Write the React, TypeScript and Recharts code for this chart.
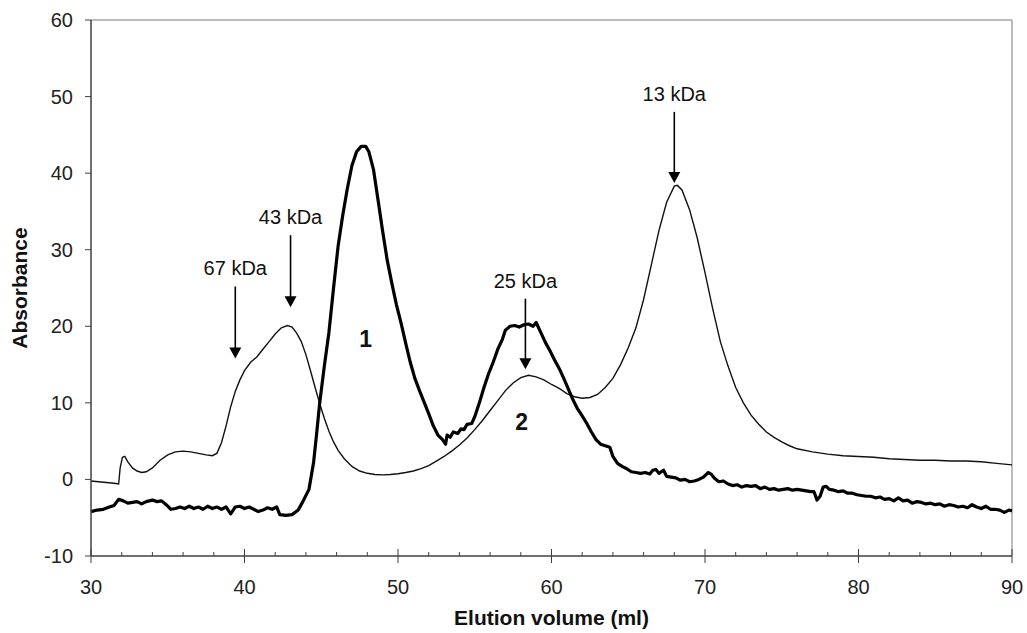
import React from 'react';
import { LineChart, Line, XAxis, YAxis, ReferenceLine, ReferenceDot } from 'recharts';

// sample (thick trace)
const sampleX = [
  30.0, 30.4, 30.8, 31.2, 31.5, 31.8, 32.1, 32.4, 32.7, 33.0, 33.3, 33.6, 34.0, 34.3, 34.6, 34.9,
  35.2, 35.5, 35.8, 36.1, 36.4, 36.7, 37.0, 37.3, 37.6, 37.9, 38.2, 38.5, 38.8, 39.1, 39.4, 39.7,
  40.0, 40.3, 40.6, 40.9, 41.2, 41.5, 41.8, 42.1, 42.3, 42.7, 43.1, 43.5, 43.8, 44.2, 44.5, 44.7,
  44.9, 45.2, 45.5, 45.8, 46.1, 46.4, 46.7, 47.0, 47.3, 47.6, 47.9, 48.1, 48.4, 48.7, 49.0, 49.3,
  49.6, 49.9, 50.2, 50.5, 50.8, 51.1, 51.4, 51.7, 52.0, 52.3, 52.6, 52.9, 53.1, 53.2, 53.4, 53.6,
  53.9, 54.1, 54.3, 54.5, 54.8, 55.0, 55.3, 55.6, 55.9, 56.2, 56.5, 56.8, 57.0, 57.3, 57.6, 57.9,
  58.2, 58.5, 58.8, 59.0, 59.3, 59.6, 59.9, 60.2, 60.5, 60.8, 61.1, 61.4, 61.7, 62.0, 62.3, 62.6,
  62.9, 63.2, 63.5, 63.8, 64.0, 64.3, 64.6, 64.9, 65.2, 65.5, 65.8, 66.1, 66.4, 66.6, 66.8, 67.0,
  67.3, 67.5, 67.8, 68.1, 68.4, 68.7, 69.0, 69.3, 69.6, 69.9, 70.2, 70.4, 70.6, 70.9, 71.2, 71.5,
  71.8, 72.1, 72.4, 72.7, 73.0, 73.3, 73.6, 73.9, 74.2, 74.5, 74.8, 75.1, 75.4, 75.7, 76.0, 76.3,
  76.6, 76.9, 77.1, 77.3, 77.5, 77.7, 77.9, 78.1, 78.4, 78.7, 79.0, 79.3, 79.6, 79.9, 80.2, 80.5,
  80.8, 81.1, 81.4, 81.7, 82.0, 82.3, 82.6, 82.9, 83.2, 83.5, 83.8, 84.1, 84.4, 84.7, 85.0, 85.3,
  85.6, 85.9, 86.2, 86.5, 86.8, 87.1, 87.4, 87.7, 88.0, 88.3, 88.6, 88.9, 89.2, 89.5, 89.8, 90.0,
];
const sampleY = [
  -4.2, -4.0, -3.9, -3.6, -3.4, -2.6, -2.8, -3.1, -3.0, -2.9, -3.2, -2.9, -2.7, -2.9, -2.8, -3.3,
  -3.9, -3.8, -3.6, -3.8, -3.5, -3.8, -3.6, -3.9, -3.5, -3.8, -3.6, -3.9, -3.6, -4.5, -3.6, -3.5,
  -3.8, -3.6, -3.9, -4.2, -4.0, -3.7, -3.9, -3.6, -4.6, -4.7, -4.6, -4.0, -2.9, -1.3, 2.2, 6.0,
  10.0, 14.8, 19.2, 25.0, 30.5, 34.5, 38.0, 41.0, 42.8, 43.5, 43.5, 42.8, 40.5, 36.5, 32.4, 28.6,
  25.6, 22.8, 20.4, 17.8, 15.3, 13.2, 11.6, 10.1, 8.6, 7.0, 5.8, 5.2, 4.6, 5.8, 5.5, 6.2,
  6.0, 6.6, 6.5, 7.2, 7.3, 8.2, 10.0, 12.0, 13.8, 15.3, 17.0, 18.3, 19.5, 20.0, 20.1, 19.9,
  20.2, 20.3, 20.0, 20.5, 19.2, 17.9, 16.8, 15.6, 14.5, 13.2, 11.8, 10.4, 9.2, 8.3, 7.3, 6.2,
  5.2, 4.6, 4.4, 4.2, 3.0, 2.1, 1.7, 1.4, 1.0, 0.9, 0.8, 0.9, 0.7, 1.2, 1.3, 0.8,
  1.2, 0.4, 0.3, 0.2, -0.1, 0.0, -0.3, -0.2, 0.0, 0.3, 0.9, 0.7, 0.2, -0.3, -0.2, -0.6,
  -0.8, -0.7, -1.0, -0.8, -0.9, -0.8, -1.2, -1.0, -1.3, -1.2, -1.4, -1.3, -1.2, -1.4, -1.3, -1.4,
  -1.5, -1.6, -1.6, -2.7, -2.2, -1.0, -0.9, -1.3, -1.4, -1.6, -1.5, -1.8, -1.8, -2.0, -2.1, -2.2,
  -2.2, -2.4, -2.3, -2.6, -2.5, -2.8, -2.4, -2.8, -2.7, -3.1, -2.9, -3.0, -3.2, -3.1, -3.3, -3.2,
  -3.5, -3.3, -3.4, -3.6, -3.5, -3.7, -3.3, -3.6, -3.8, -3.5, -3.9, -3.9, -4.0, -4.3, -4.0, -4.1,
];

// molecular weight standards (thin trace)
const standardX = [
  30.0, 30.5, 31.0, 31.5, 31.8, 31.9, 32.05, 32.2, 32.4, 32.7, 33.0, 33.3, 33.6, 34.0, 34.5, 35.0,
  35.5, 36.0, 36.5, 37.0, 37.5, 37.9, 38.2, 38.5, 38.8, 39.1, 39.4, 39.7, 40.0, 40.4, 40.8, 41.2,
  41.6, 42.0, 42.4, 42.8, 43.1, 43.4, 43.7, 44.0, 44.3, 44.6, 44.9, 45.2, 45.5, 45.8, 46.1, 46.5,
  47.0, 47.5, 48.0, 48.5, 49.0, 49.5, 50.0, 50.5, 51.0, 51.5, 52.0, 52.5, 53.0, 53.5, 54.0, 54.5,
  55.0, 55.5, 56.0, 56.5, 57.0, 57.5, 58.0, 58.5, 59.0, 59.5, 60.0, 60.5, 61.0, 61.5, 62.0, 62.5,
  63.0, 63.5, 64.0, 64.5, 65.0, 65.5, 66.0, 66.5, 67.0, 67.5, 68.0, 68.2, 68.5, 69.0, 69.5, 70.0,
  70.5, 71.0, 71.5, 72.0, 72.5, 73.0, 73.5, 74.0, 74.5, 75.0, 75.5, 76.0, 77.0, 78.0, 79.0, 80.0,
  81.0, 82.0, 83.0, 84.0, 85.0, 86.0, 87.0, 88.0, 89.0, 90.0,
];
const standardY = [
  -0.2, -0.3, -0.4, -0.5, -0.6, 1.5, 2.9, 3.0, 2.3, 1.5, 1.1, 0.9, 1.0, 1.5, 2.5, 3.2,
  3.6, 3.7, 3.6, 3.4, 3.2, 3.1, 3.4, 4.8, 7.0, 9.5, 11.5, 13.0, 14.2, 15.3, 16.0, 17.0,
  18.0, 19.0, 19.8, 20.1, 19.9, 19.1, 18.0, 16.3, 14.2, 12.0, 9.9, 8.0, 6.3, 4.9, 3.8, 2.7,
  1.7, 1.1, 0.8, 0.65, 0.6, 0.65, 0.75, 0.9, 1.1, 1.4, 1.8, 2.4, 3.0, 3.7, 4.5, 5.4,
  6.5, 7.7, 9.0, 10.3, 11.6, 12.6, 13.3, 13.6, 13.4, 13.0, 12.4, 11.9, 11.2, 10.8, 10.6, 10.7,
  11.1, 12.0, 13.2, 15.0, 17.2, 19.8, 23.5, 28.0, 32.5, 36.2, 38.3, 38.4, 37.8, 35.2, 31.5, 27.0,
  22.3, 18.0, 14.8, 12.0, 10.0, 8.4, 7.2, 6.2, 5.5, 4.9, 4.4, 4.0, 3.6, 3.3, 3.1, 3.0,
  2.9, 2.7, 2.6, 2.5, 2.5, 2.4, 2.4, 2.3, 2.1, 1.9,
];

// standard markers: label, elution volume, arrow top, arrow tip
const markerLabels = ['67 kDa', '43 kDa', '25 kDa', '13 kDa'];
const markerX = [39.4, 43.0, 58.3, 68.0];
const markerTop = [25.2, 31.9, 23.6, 48.0];
const markerTip = [15.8, 22.5, 14.4, 38.7];

// peak numbers
const peakLabels = ['1', '2'];
const peakX = [47.9, 58.05];
const peakY = [18.4, 7.5];

const xTicks = [30, 32, 34, 36, 38, 40, 42, 44, 46, 48, 50, 52, 54, 56, 58, 60, 62, 64, 66, 68, 70,
  72, 74, 76, 78, 80, 82, 84, 86, 88, 90];
const yTicks = [-10, 0, 10, 20, 30, 40, 50, 60];

const sample = sampleX.map((x, i) => ({ x, y: sampleY[i] }));
const standards = standardX.map((x, i) => ({ x, y: standardY[i] }));

const FONT = '"Liberation Sans", Arial, Helvetica, sans-serif';
const AXIS = '#404040';

const XTick = (props: any) => {
  const { x, y, payload } = props;
  const major = payload.value % 10 === 0;
  if (!major) {
    return <line x1={x} x2={x} y1={y - 4} y2={y} stroke={AXIS} strokeWidth={1} />;
  }
  return (
    <g>
      <line x1={x} x2={x} y1={y - 7} y2={y + 7} stroke={AXIS} strokeWidth={1} />
      <text x={x} y={y + 31} dy="0.35em" textAnchor="middle" fontSize={20} fontFamily={FONT} fill="#222">
        {payload.value}
      </text>
    </g>
  );
};

const YTick = (props: any) => {
  const { x, y, payload } = props;
  return (
    <g>
      <line x1={x - 6} x2={x} y1={y} y2={y} stroke={AXIS} strokeWidth={1} />
      <text x={x - 18} y={y} dy="0.35em" textAnchor="end" fontSize={20} fontFamily={FONT} fill="#222">
        {payload.value}
      </text>
    </g>
  );
};

const arrowShape = (label: string) => (props: any) => {
  const { x1, y1, x2, y2 } = props;
  const head = 11;
  return (
    <g>
      <line x1={x1} y1={y1} x2={x2} y2={y2 - head + 1} stroke="#000" strokeWidth={1.6} />
      <polygon points={`${x2 - 6},${y2 - head} ${x2 + 6},${y2 - head} ${x2},${y2}`} fill="#000" />
      <text x={x1} y={y1 - 18} dy="0.35em" textAnchor="middle" fontSize={20} fontFamily={FONT} fill="#111">
        {label}
      </text>
    </g>
  );
};

const peakShape = (label: string) => (props: any) => (
  <text x={props.cx} y={props.cy} dy="0.35em" textAnchor="middle" fontSize={23} fontWeight="bold"
    fontFamily={FONT} fill="#111">
    {label}
  </text>
);

export default function App() {
  return (
    <div style={{ position: 'absolute', left: 0, top: 0, background: '#fff' }}>
      <LineChart width={1027} height={633} margin={{ top: 20, right: 15, bottom: 0, left: 0 }}>
        <XAxis
          dataKey="x"
          type="number"
          domain={[30, 90]}
          ticks={xTicks}
          interval={0}
          height={77}
          tickSize={0}
          tickMargin={0}
          tickLine={false}
          tick={XTick}
          axisLine={{ stroke: AXIS, strokeWidth: 1.5 }}
          label={{
            value: 'Elution volume (ml)',
            position: 'insideBottom',
            offset: 8,
            style: { fontSize: 21, fontWeight: 'bold', fontFamily: FONT, fill: '#111' },
          }}
        />
        <YAxis
          type="number"
          domain={[-10, 60]}
          ticks={yTicks}
          interval={0}
          width={91}
          tickSize={0}
          tickMargin={0}
          tickLine={false}
          tick={YTick}
          axisLine={{ stroke: AXIS, strokeWidth: 1.5 }}
          label={{
            value: 'Absorbance',
            angle: -90,
            position: 'insideLeft',
            offset: 20,
            style: { fontSize: 21, fontWeight: 'bold', fontFamily: FONT, fill: '#111', textAnchor: 'middle' },
          }}
        />
        <ReferenceLine y={60} stroke="#a6a6a6" strokeWidth={1.5} />
        <ReferenceLine x={90} stroke="#a6a6a6" strokeWidth={1.5} />
        <Line data={standards} dataKey="y" type="linear" stroke="#111" strokeWidth={1.4} dot={false}
          isAnimationActive={false} />
        <Line data={sample} dataKey="y" type="linear" stroke="#000" strokeWidth={3.2} dot={false}
          strokeLinejoin="round" isAnimationActive={false} />
        {markerLabels.map((label, i) => (
          <ReferenceLine
            key={label}
            segment={[{ x: markerX[i], y: markerTop[i] }, { x: markerX[i], y: markerTip[i] }]}
            shape={arrowShape(label)}
          />
        ))}
        {peakLabels.map((label, i) => (
          <ReferenceDot key={label} x={peakX[i]} y={peakY[i]} r={1} shape={peakShape(label)} />
        ))}
      </LineChart>
    </div>
  );
}
